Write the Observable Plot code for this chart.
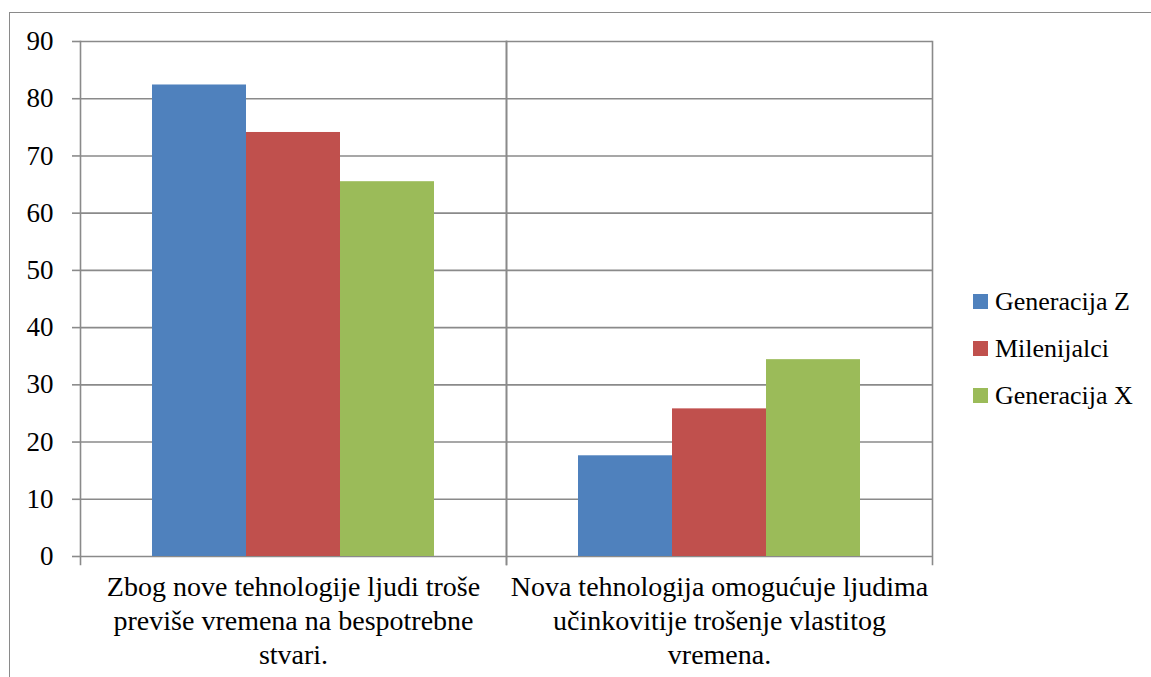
<!DOCTYPE html>
<html>
<head>
<meta charset="utf-8">
<script src="https://cdn.jsdelivr.net/npm/d3@7"></script>
<script src="https://cdn.jsdelivr.net/npm/@observablehq/plot@0.6"></script>
<style>
  html, body { margin: 0; padding: 0; background: #fff; overflow: hidden; }
  #wrap { position: relative; width: 1151px; height: 677px; overflow: hidden; font-family: "Liberation Serif", serif; }
  #frame { position: absolute; left: 9px; top: 12px; width: 1300px; height: 800px; border-left: 1.5px solid #8a8a8a; border-top: 1.5px solid #8a8a8a; }
  #chart { position: absolute; left: 0; top: 0; }
  #legend { position: absolute; left: 973px; top: 278px; font-size: 26px; color: #000; }
  .item { display: flex; align-items: center; height: 47px; }
  .sw { width: 15px; height: 15px; margin-right: 7px; }
</style>
</head>
<body>
<div id="wrap">
  <div id="frame"></div>
  <div id="chart"></div>
  <div id="legend"></div>
</div>
<script>
const categories = [
  "Zbog nove tehnologije ljudi troše previše vremena na bespotrebne stvari.",
  "Nova tehnologija omogućuje ljudima učinkovitije trošenje vlastitog vremena."
];
const categoryLabels = [
  "Zbog nove tehnologije ljudi troše\npreviše vremena na bespotrebne\nstvari.",
  "Nova tehnologija omogućuje ljudima\nučinkovitije trošenje vlastitog\nvremena."
];
const series = ["Generacija Z", "Milenijalci", "Generacija X"];
const generacijaZ = [82.4, 17.6];
const milenijalci = [74.1, 25.8];
const generacijaX = [65.5, 34.4];
const colors = ["#4F81BD", "#C0504D", "#9BBB59"];
const yTicks = [0, 10, 20, 30, 40, 50, 60, 70, 80, 90];

const values = [generacijaZ, milenijalci, generacijaX];
const data = [];
categories.forEach((c, i) => {
  series.forEach((s, j) => data.push({category: c, series: s, value: values[j][i]}));
});
const labelOf = new Map(categories.map((c, i) => [c, categoryLabels[i]]));

const grid = "#8a8a8a";
const chart = Plot.plot({
  width: 1151,
  height: 677,
  marginLeft: 80,
  marginRight: 219,
  marginTop: 41,
  marginBottom: 121,
  style: {fontFamily: "'Liberation Serif', serif", fontSize: "26px", color: "#000", background: "transparent"},
  fx: {domain: categories, padding: 0, label: null, axis: null},
  x: {domain: series, paddingInner: 0, paddingOuter: 0.75, axis: null},
  y: {domain: [0, 90], axis: null},
  color: {domain: series, range: colors},
  marks: [
    Plot.ruleY(yTicks, {stroke: grid, strokeWidth: 1.6}),
    Plot.frame({anchor: "left", stroke: grid, strokeWidth: 1.6, insetBottom: -8}),
    Plot.frame({anchor: "right", stroke: grid, strokeWidth: 1.6, insetBottom: -8}),
    Plot.barY(data, {fx: "category", x: "series", y: "value", fill: "series", inset: 0}),
    Plot.axisY({ticks: yTicks, tickSize: 8, tickPadding: 19, stroke: grid, strokeWidth: 1.6, label: null, fill: "#000", fontSize: 27}),
    Plot.axisFx({domain: categories, anchor: "bottom", tickSize: 0, tickPadding: 16, label: null, tickFormat: d => labelOf.get(d), lineHeight: 1.2, fill: "#000", fontSize: 28})
  ]
});
document.getElementById("chart").appendChild(chart);

const legend = document.getElementById("legend");
series.forEach((s, i) => {
  const row = document.createElement("div");
  row.className = "item";
  const sw = document.createElement("div");
  sw.className = "sw";
  sw.style.background = colors[i];
  const t = document.createElement("span");
  t.textContent = s;
  row.appendChild(sw);
  row.appendChild(t);
  legend.appendChild(row);
});
</script>
</body>
</html>
